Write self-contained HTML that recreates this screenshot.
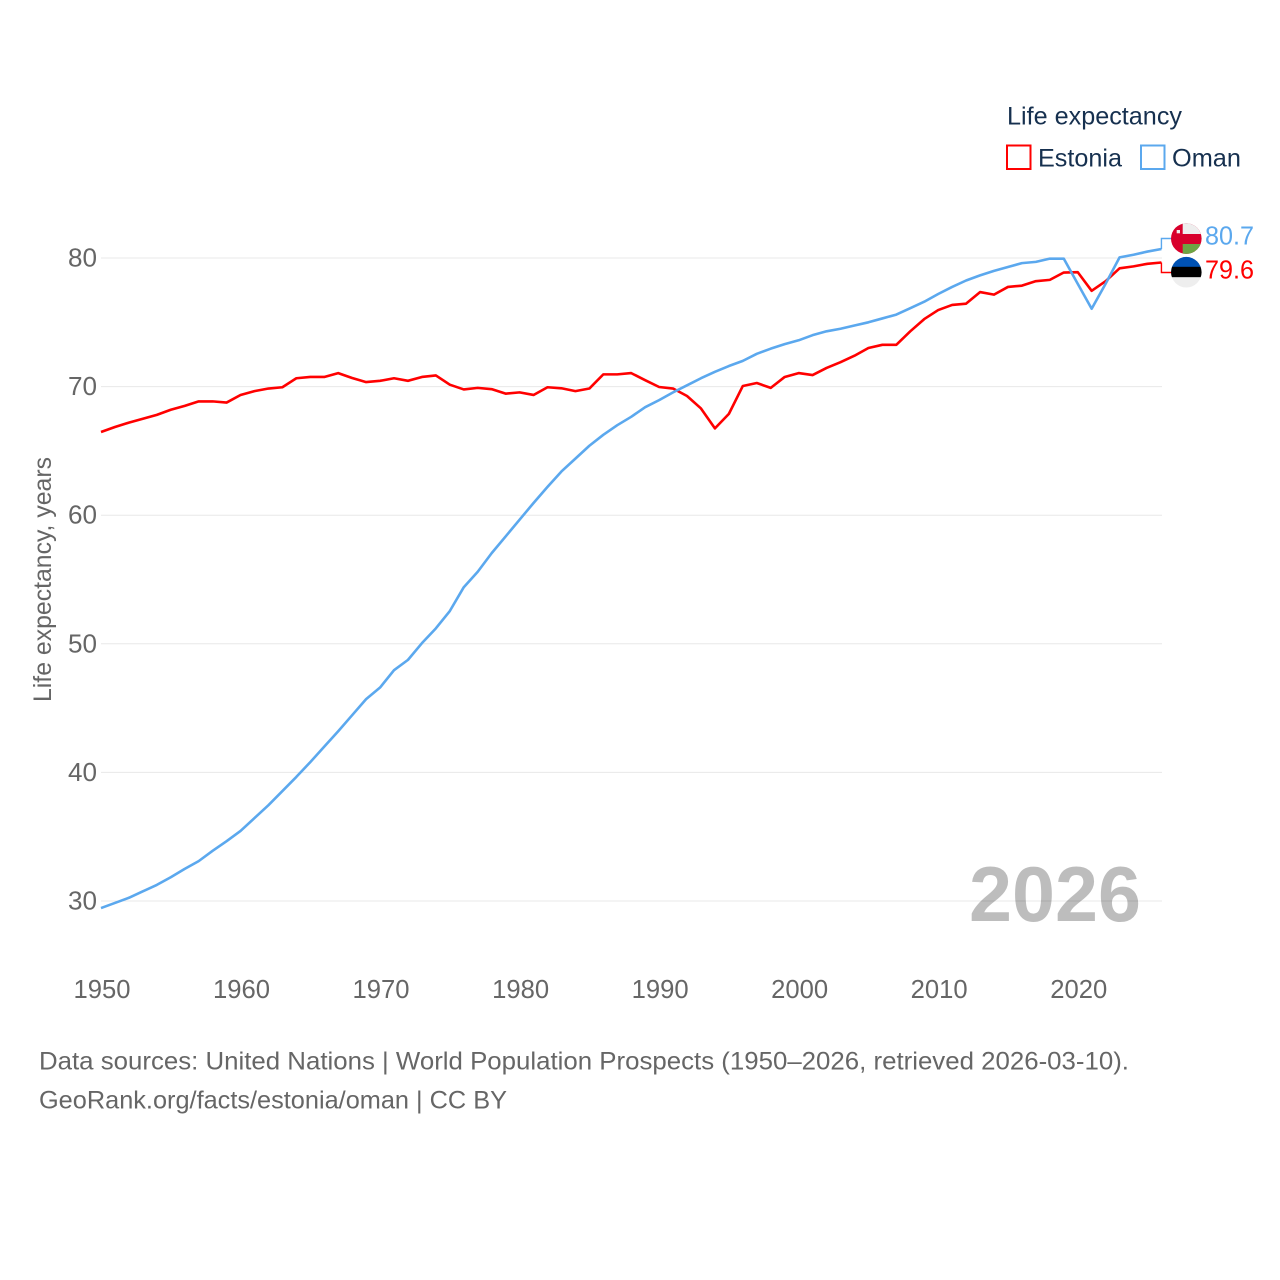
<!DOCTYPE html>
<html lang="en">
<head>
<meta charset="utf-8">
<title>Life expectancy: Estonia and Oman</title>
<style>
html,body{margin:0;padding:0;background:#fff;width:1280px;height:1280px;overflow:hidden}
svg{display:block}
text{font-family:"Liberation Sans",sans-serif}
</style>
</head>
<body>
<svg id="chart" xmlns="http://www.w3.org/2000/svg" width="1280" height="1280" viewBox="0 0 1280 1280">
  <defs>
    <clipPath id="flag-clip-oman"><circle cx="1186.3" cy="238.6" r="15.3"/></clipPath>
    <clipPath id="flag-clip-estonia"><circle cx="1186.3" cy="272.2" r="15.3"/></clipPath>
  </defs>
  <rect x="0" y="0" width="1280" height="1280" fill="#fff"/>
  <g id="grid"></g>
  <g id="y-ticks"></g>
  <g id="x-ticks"></g>
  <text transform="translate(51,702) rotate(-90)" font-size="25" fill="#666" textLength="245" lengthAdjust="spacingAndGlyphs">Life expectancy, years</text>
  <text x="969" y="921" font-size="78" font-weight="700" fill="#000" fill-opacity="0.26" textLength="172" lengthAdjust="spacingAndGlyphs">2026</text>
  <g id="series"></g>

  <g>
    <text x="1007" y="124.5" font-size="25" fill="#16304f" textLength="175" lengthAdjust="spacingAndGlyphs">Life expectancy</text>
    <rect x="1007" y="145.5" width="23.5" height="23.5" fill="none" stroke="#ff0000" stroke-width="2"/>
    <text x="1038" y="166.5" font-size="25" fill="#16304f" textLength="84" lengthAdjust="spacingAndGlyphs">Estonia</text>
    <rect x="1141" y="145.5" width="23.5" height="23.5" fill="none" stroke="#5ba8ee" stroke-width="2"/>
    <text x="1172" y="166.5" font-size="25" fill="#16304f" textLength="69" lengthAdjust="spacingAndGlyphs">Oman</text>
  </g>

  <g clip-path="url(#flag-clip-oman)">
    <rect x="1170" y="223" width="33" height="32" fill="#d8002c"/>
    <rect x="1182.7" y="223" width="20" height="11" fill="#eeeeee"/>
    <rect x="1182.7" y="244" width="20" height="11" fill="#6da544"/>
    <rect x="1176.7" y="230" width="3.3" height="3.3" fill="#eeeeee"/>
  </g>
  <g clip-path="url(#flag-clip-estonia)">
    <rect x="1170" y="256" width="33" height="11" fill="#0052b4"/>
    <rect x="1170" y="266.8" width="33" height="10.5" fill="#000000"/>
    <rect x="1170" y="277.3" width="33" height="11" fill="#eeeeee"/>
  </g>
  <text id="value-oman" x="1205" y="244.5" font-size="26" fill="#5ba8ee" textLength="49" lengthAdjust="spacingAndGlyphs"></text>
  <text id="value-estonia" x="1205" y="278.5" font-size="26" fill="#ff0000" textLength="49" lengthAdjust="spacingAndGlyphs"></text>

  <g>
    <text x="39" y="1069.5" font-size="25" fill="#666" textLength="1090" lengthAdjust="spacingAndGlyphs">Data sources: United Nations | World Population Prospects (1950–2026, retrieved 2026-03-10).</text>
    <text x="39" y="1108.5" font-size="25" fill="#666" textLength="468" lengthAdjust="spacingAndGlyphs">GeoRank.org/facts/estonia/oman | CC BY</text>
  </g>
</svg>
<script>
const firstYear = 1950;
const yTickValues = [30, 40, 50, 60, 70, 80];
const xTickYears = [1950, 1960, 1970, 1980, 1990, 2000, 2010, 2020];
const estoniaValues = [
  66.47, 66.86, 67.2, 67.5, 67.8, 68.2, 68.5, 68.85, 68.85, 68.76,
  69.35, 69.65, 69.85, 69.95, 70.65, 70.75, 70.75, 71.05, 70.67, 70.35,
  70.45, 70.65, 70.45, 70.75, 70.87, 70.15, 69.78, 69.9, 69.8, 69.45,
  69.55, 69.35, 69.95, 69.87, 69.65, 69.85, 70.95, 70.95, 71.05, 70.5,
  69.97, 69.85, 69.27, 68.3, 66.75, 67.88, 70.05, 70.28, 69.9, 70.75,
  71.05, 70.9, 71.45, 71.9, 72.4, 73.0, 73.25, 73.25, 74.3, 75.25,
  75.95, 76.35, 76.45, 77.35, 77.15, 77.75, 77.85, 78.2, 78.3, 78.87,
  78.9, 77.45, 78.2, 79.2, 79.35, 79.55, 79.65
];
const omanValues = [
  29.45, 29.85, 30.25, 30.75, 31.25, 31.85, 32.5, 33.1, 33.9, 34.65,
  35.45, 36.45, 37.45, 38.55, 39.65, 40.8, 42, 43.2, 44.45, 45.7,
  46.6, 47.95, 48.75, 50.05, 51.2, 52.55, 54.4, 55.6, 57.05, 58.35,
  59.65, 60.95, 62.2, 63.4, 64.4, 65.4, 66.25, 67, 67.65, 68.4,
  68.95, 69.55, 70.1, 70.65, 71.15, 71.6, 72, 72.55, 72.95, 73.3,
  73.6, 74, 74.3, 74.5, 74.75, 75.0, 75.3, 75.6, 76.1, 76.6,
  77.2, 77.75, 78.25, 78.65, 79.0, 79.3, 79.6, 79.7, 79.95, 79.95,
  78, 76.05, 78, 80.05, 80.25, 80.5, 80.7
];
const estoniaLabel = '79.6';
const omanLabel = '80.7';

const SVG_NS = 'http://www.w3.org/2000/svg';
function xScale(year) { return 101 + (year - 1950) * 13.953; }
function yScale(value) { return 901 - (value - 30) * (901 - 258) / 50; }
function makeEl(tag, attrs) {
  const el = document.createElementNS(SVG_NS, tag);
  for (const key in attrs) el.setAttribute(key, attrs[key]);
  return el;
}
const gridGroup = document.getElementById('grid');
const yTickGroup = document.getElementById('y-ticks');
const xTickGroup = document.getElementById('x-ticks');
const seriesGroup = document.getElementById('series');

yTickValues.forEach(function (v) {
  const line = makeEl('line', { x1: 101, x2: 1162, y1: yScale(v), y2: yScale(v), stroke: '#e8e8e8', 'stroke-width': 1 });
  
  
  gridGroup.appendChild(line);
  const label = makeEl('text', { x: 68, y: yScale(v) + 8.5, 'font-size': 26, fill: '#666', textLength: 29, lengthAdjust: 'spacingAndGlyphs' });
  
  
  label.textContent = String(v);
  yTickGroup.appendChild(label);
});

xTickYears.forEach(function (year) {
  const label = makeEl('text', { x: xScale(year) - 27.5, y: 998, 'font-size': 26, fill: '#666', textLength: 57, lengthAdjust: 'spacingAndGlyphs' });
  
  
  label.textContent = String(year);
  xTickGroup.appendChild(label);
});

function linePath(values) {
  return values.map(function (v, i) {
    return (i ? 'L' : 'M') + xScale(firstYear + i).toFixed(2) + ' ' + yScale(v).toFixed(2);
  }).join(' ');
}
function connectorPath(values, labelY) {
  const lastX = xScale(firstYear + values.length - 1);
  const lastY = yScale(values[values.length - 1]);
  return 'M' + lastX.toFixed(2) + ' ' + lastY.toFixed(2) + ' V' + labelY + ' H1172';
}

const estoniaLine = makeEl('path', { d: linePath(estoniaValues), fill: 'none', stroke: '#ff0000', 'stroke-width': 2.6, 'stroke-linejoin': 'round' });


seriesGroup.appendChild(estoniaLine);

const omanLine = makeEl('path', { d: linePath(omanValues), fill: 'none', stroke: '#5ba8ee', 'stroke-width': 2.6, 'stroke-linejoin': 'round' });


seriesGroup.appendChild(omanLine);

const estoniaConnector = makeEl('path', { d: connectorPath(estoniaValues, 272.5), fill: 'none', stroke: '#ff0000', 'stroke-width': 1.4 });


seriesGroup.appendChild(estoniaConnector);

const omanConnector = makeEl('path', { d: connectorPath(omanValues, 238.5), fill: 'none', stroke: '#5ba8ee', 'stroke-width': 1.4 });


seriesGroup.appendChild(omanConnector);

document.getElementById('value-oman').textContent = omanLabel;
document.getElementById('value-estonia').textContent = estoniaLabel;
</script>
</body>
</html>
